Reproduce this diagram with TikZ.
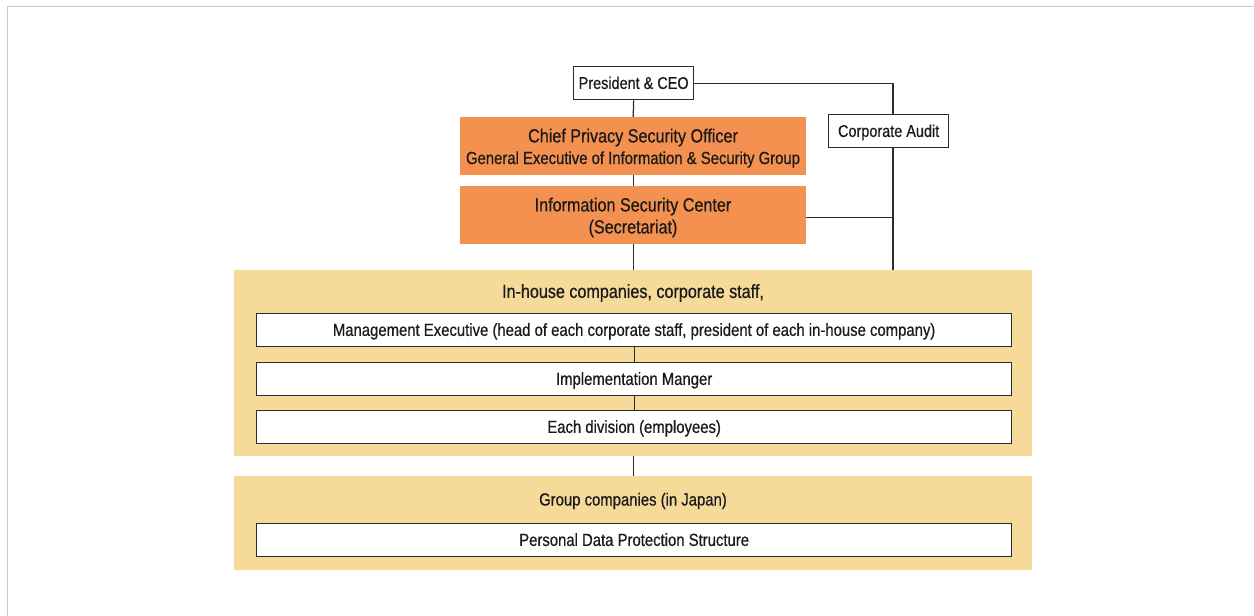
\documentclass[tikz,border=0pt]{standalone}
\usepackage{fontspec}
\setmainfont{Liberation Sans}[FakeStretch=0.85,FakeBold=0.6]
\definecolor{orng}{HTML}{F59150}
\definecolor{ylw}{HTML}{F5DA99}
\definecolor{ln}{HTML}{2B2B2B}
\definecolor{frm}{HTML}{C8C8C8}
\definecolor{txt}{HTML}{1A1A1A}
\newcommand{\myfs}[2]{\fontsize{#1}{#2}\selectfont}
\tikzset{
  wbox/.style={draw=ln, line width=1.3pt, fill=white, inner sep=0pt, anchor=north west, text=txt,
    text height=12.5pt, text depth=1pt, font=\myfs{17.5}{21}},
  obox/.style={fill=orng, inner sep=0pt, anchor=north west},
  panel/.style={fill=ylw, inner sep=0pt, anchor=north west},
  head/.style={inner sep=0pt, text=txt, font=\myfs{19}{22}},
  conn/.style={draw=ln, line width=1.25pt},
}
\begin{document}
\begin{tikzpicture}[x=1pt,y=-1pt]
\useasboundingbox (0,0) rectangle (1254,616);
\draw[frm, line width=1.5pt] (7.5,616) -- (7.5,6.5) -- (1254,6.5);

% panels
\node[panel, minimum width=798, minimum height=186] (p1) at (234,270) {};
\node[panel, minimum width=798, minimum height=94] (p2) at (234,476) {};

% top boxes
\node[wbox, minimum width=120, minimum height=33, font=\myfs{17}{20}] (ceo) at (573,66) {President \& CEO};
\node[wbox, minimum width=120, minimum height=33, font=\myfs{17}{20}] (audit) at (828,114) {Corporate Audit};
\node[obox, minimum width=346, minimum height=58] (cpso) at (460,117) {};
\node[head] (cpso1) at (633,137.5) {Chief Privacy Security Officer};
\node[head, font=\myfs{17.5}{21}] (cpso2) at (633,159.5) {General Executive of Information \& Security Group};
\node[obox, minimum width=346, minimum height=58] (isc) at (460,186) {};
\node[head] (isc1) at (633,206.5) {Information Security Center};
\node[head] (isc2) at (633,228.5) {(Secretariat)};

% panel 1 content
\node[head] (p1t) at (633,293) {In-house companies, corporate staff,};
\node[wbox, minimum width=755, minimum height=33] (mgmt) at (256,313) {Management Executive (head of each corporate staff, president of each in-house company)};
\node[wbox, minimum width=755, minimum height=33] (impl) at (256,362) {Implementation Manger};
\node[wbox, minimum width=755, minimum height=33] (each) at (256,410) {Each division (employees)};

% panel 2 content
\node[head, font=\myfs{17.5}{21}] (p2t) at (633,501) {Group companies (in Japan)};
\node[wbox, minimum width=755, minimum height=33] (pdps) at (256,523) {Personal Data Protection Structure};

% connectors
\coordinate (ax) at (893,0);
\draw[conn] (ceo.south) -- (cpso.north);
\draw[conn] (cpso.south) -- (isc.north);
\draw[conn] (isc.south) -- (isc.south |- p1.north);
\draw[conn] (ceo.east) -| (ax |- audit.north);
\draw[conn] (ax |- audit.south) -- (ax |- p1.north);
\coordinate (j) at (ax |- isc.east);
\draw[conn] ([yshift=-2pt]isc.east) -- ([yshift=-2pt]j);
\draw[conn] (mgmt.south) -- (impl.north);
\draw[conn] (impl.south) -- (each.north);
\draw[conn] (p1.south) -- (p2.north);
\end{tikzpicture}
\end{document}
